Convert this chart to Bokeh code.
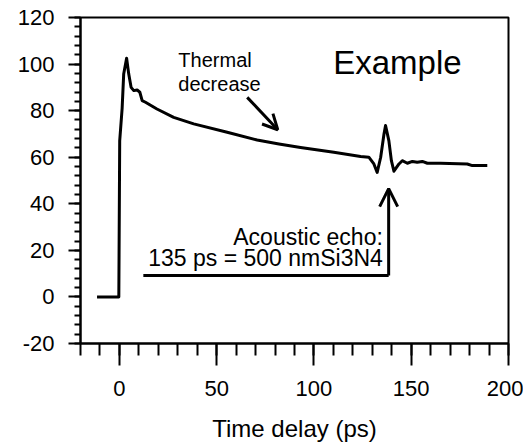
from bokeh.plotting import figure
from bokeh.models import Range1d, FixedTicker, Arrow, OpenHead
from bokeh.core.properties import value
from bokeh.embed import file_html
from bokeh.resources import INLINE

# Data
time_ps = [-11.5, -0.3, 0.15, 1.4, 2.2, 3.7, 4.8, 6.0, 7.4, 9.1, 10.5, 11.7, 13.4,
           19.3, 27.9, 38.2, 55.4, 70.8, 82.0, 93.1, 110.2, 124.0, 128.2, 130.8, 132.5,
           134.3, 136.0, 136.8, 138.5, 139.8, 141.1, 143.7, 145.4, 148.0, 150.6,
           153.1, 155.7, 158.3, 165.1, 178.8, 181.4, 189.1]
signal = [0, 0, 67, 81, 95.7, 102.5, 95.7, 90, 88.6, 88.9, 87.9, 84.3, 83.6,
          80.7, 77.1, 74.3, 70.7, 67.4, 65.7, 64.2, 62.1, 60.3, 60, 57.1, 53.5,
          60, 70, 73.6, 67.1, 58.5, 54, 57.1, 58.5, 57.4, 58.2,
          57.8, 58.2, 57.4, 57.4, 57.1, 56.4, 56.4]

x_major = [0, 50, 100, 150, 200]
x_minor = list(range(-20, 201, 10))
y_major = [-20, 0, 20, 40, 60, 80, 100, 120]
y_minor = list(range(-20, 121, 4))

title_text = "Example"
thermal_lines = ["Thermal", "decrease"]
echo_lines = ["Acoustic echo:", "135 ps = 500 nmSi3N4"]
x_label = "Time delay (ps)"

FONT = "Liberation Sans"

p = figure(frame_width=428, frame_height=326, output_backend="svg",
           toolbar_location=None, x_range=Range1d(-20, 200), y_range=Range1d(-20, 120),
           min_border_left=80, min_border_right=15, min_border_top=17, min_border_bottom=90)
p.background_fill_color = "white"
p.border_fill_color = "white"
p.outline_line_color = "black"
p.outline_line_width = 2
p.xgrid.visible = False
p.ygrid.visible = False

p.xaxis.ticker = FixedTicker(ticks=x_major, minor_ticks=x_minor)
p.yaxis.ticker = FixedTicker(ticks=y_major, minor_ticks=y_minor)
p.yaxis.major_label_overrides = {-20: "-20"}
for ax in (p.xaxis, p.yaxis):
    ax.axis_line_color = "black"
    ax.axis_line_width = 2
    ax.major_tick_line_color = "black"
    ax.minor_tick_line_color = "black"
    ax.major_tick_line_width = 2
    ax.minor_tick_line_width = 2
    ax.major_tick_in = 0
    ax.minor_tick_in = 0
    ax.major_label_text_font = FONT
    ax.major_label_text_font_size = "22px"
    ax.major_label_text_color = "black"
p.xaxis.major_tick_out = 22
p.xaxis.minor_tick_out = 12
p.yaxis.major_tick_out = 12
p.yaxis.minor_tick_out = 6
p.xaxis.major_label_standoff = 15
p.yaxis.major_label_standoff = 14
p.xaxis.axis_label = x_label
p.xaxis.axis_label_text_font = FONT
p.xaxis.axis_label_text_font_size = "24px"
p.xaxis.axis_label_text_font_style = "normal"
p.xaxis.axis_label_text_color = "black"
p.xaxis.axis_label_standoff = 16

p.line(time_ps, signal, line_color="black", line_width=3, line_join="round")

# Annotations
p.text(x=[109.9], y=[100.7], text=[title_text], text_font=value(FONT),
       text_font_size="33px", text_color="black", text_baseline="alphabetic")
p.text(x=[30.3, 30.3], y=[101.7, 91.5], text=thermal_lines, text_font=value(FONT),
       text_font_size="20px", text_color="black", text_baseline="alphabetic")
p.text(x=[135.4, 135.4], y=[25.6, 16.9], text=echo_lines, text_font=value(FONT),
       text_font_size="23px", text_color="black", text_baseline="alphabetic",
       text_align="right")

p.add_layout(Arrow(end=OpenHead(size=15, line_width=3, line_color="black"),
                   x_start=65.7, y_start=85.7, x_end=81.4, y_end=71.8,
                   line_width=3, line_color="black"))
p.line([12.3, 138.4], [9.2, 9.2], line_color="black", line_width=3)
p.add_layout(Arrow(end=OpenHead(size=18, line_width=3, line_color="black"),
                   x_start=138.4, y_start=9.2, x_end=138.4, y_end=46.5,
                   line_width=3, line_color="black"))

open("out.html", "w").write(file_html(p, INLINE))
